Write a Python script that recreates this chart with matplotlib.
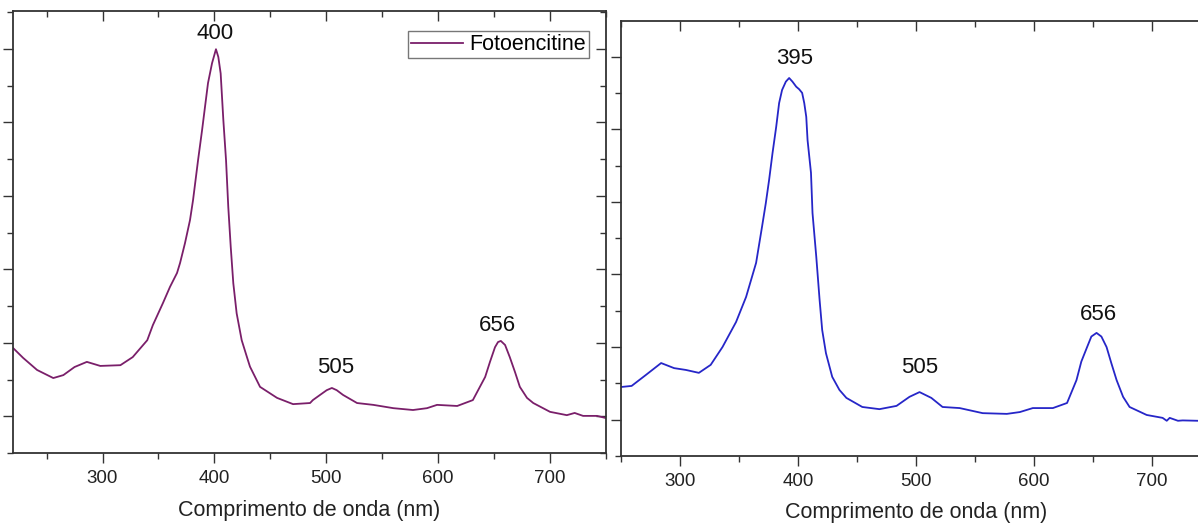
import numpy as np
import matplotlib
matplotlib.use('Agg')
import matplotlib.pyplot as plt
from matplotlib.ticker import MultipleLocator, NullFormatter

plt.rcParams['font.family'] = ['Liberation Sans', 'DejaVu Sans']

# espectro da esquerda (Fotoencitine)
wl_left = [220, 229, 241.5, 256, 265, 275, 286, 298, 316, 327, 340, 345, 354, 360.3,
           366.6, 369.3, 373.7, 378.2, 380.9, 385.4, 389, 391.6, 394.3, 397.9, 401.4,
           403.5, 405.6, 408, 410.4, 412.4, 414.6, 416.9, 419.9, 424.4, 429.1, 431.8,
           440.8, 456, 470.3, 485.5, 488, 494.4, 500.4, 505, 509.3, 515, 527.5, 542,
           560, 577.5, 590, 599, 617, 631, 642, 646.3, 650.8, 653.5, 656, 659.8, 664,
           668.7, 673, 679.4, 685, 700, 715, 722, 729.5, 742, 750]
abs_left = [0.186, 0.159, 0.126, 0.104, 0.112, 0.134, 0.148, 0.137, 0.139, 0.161,
            0.207, 0.248, 0.308, 0.352, 0.390, 0.417, 0.471, 0.534, 0.588, 0.697,
            0.779, 0.842, 0.907, 0.961, 0.999, 0.978, 0.933, 0.806, 0.697, 0.570,
            0.461, 0.362, 0.280, 0.207, 0.161, 0.135, 0.080, 0.050, 0.033, 0.036,
            0.044, 0.058, 0.071, 0.077, 0.071, 0.058, 0.036, 0.031, 0.022, 0.017,
            0.022, 0.031, 0.028, 0.044, 0.107, 0.148, 0.188, 0.202, 0.205, 0.194,
            0.161, 0.120, 0.080, 0.050, 0.036, 0.012, 0.003, 0.009, 0.001, 0.001,
            -0.005]

# espectro da direita
wl_right = [250, 259, 271, 284, 295, 305, 316, 326, 336, 347.5, 356, 364.5, 369.5,
            372.7, 375.5, 378.4, 381.5, 384, 386.5, 389.7, 392.5, 395.3, 398.5, 401,
            403.5, 405.3, 407, 408.1, 411, 412.3, 415.5, 418.3, 420.5, 423.7, 429,
            435.1, 441, 454.5, 469, 483.5, 494.5, 503, 513, 522.5, 537, 556.5, 577,
            588, 599, 616, 628, 636, 640.1, 645, 648.6, 653, 657.1, 661.5, 665.6, 670,
            675.5, 681, 695.5, 709, 712.5, 715, 722, 726, 739, 750]
abs_right = [0.090, 0.093, 0.123, 0.156, 0.142, 0.137, 0.129, 0.151, 0.200, 0.269,
             0.338, 0.432, 0.531, 0.596, 0.660, 0.734, 0.806, 0.872, 0.908, 0.931,
             0.941, 0.931, 0.917, 0.910, 0.900, 0.872, 0.834, 0.770, 0.680, 0.569,
             0.448, 0.330, 0.247, 0.183, 0.118, 0.082, 0.060, 0.035, 0.029, 0.038,
             0.063, 0.076, 0.060, 0.035, 0.032, 0.018, 0.016, 0.021, 0.032, 0.032,
             0.046, 0.109, 0.160, 0.200, 0.229, 0.239, 0.229, 0.200, 0.155, 0.109,
             0.063, 0.035, 0.013, 0.005, -0.003, 0.005, -0.003, -0.002, -0.003,
             -0.003]

# rotulos dos picos (texto, x, y)
peaks_left = [("400", 400.5, 1.043), ("505", 508.7, 0.134), ("656", 652.6, 0.248)]
peaks_right = [("395", 396.8, 0.996), ("505", 502.9, 0.145), ("656", 654.8, 0.291)]

fig = plt.figure(figsize=(11.98, 5.25), dpi=100)
W, H = 1198.0, 525.0
ax1 = fig.add_axes([13 / W, (H - 453) / H, 593 / W, 442 / H])
ax2 = fig.add_axes([621 / W, (H - 456) / H, 590 / W, 435 / H])

def style_axis(ax, xmin, xmax, ytop):
    ax.set_xlim(xmin, xmax)
    ax.set_ylim(-0.1, ytop)
    ax.xaxis.set_major_locator(MultipleLocator(100))
    ax.xaxis.set_minor_locator(MultipleLocator(50))
    ax.yaxis.set_major_locator(MultipleLocator(0.2))
    ax.yaxis.set_minor_locator(MultipleLocator(0.1))
    ax.yaxis.set_major_formatter(NullFormatter())
    ax.tick_params(axis='both', which='both', direction='out', color='#333333',
                   width=1.0, labelsize=13.5, labelcolor='#222222', pad=5)
    ax.tick_params(which='major', length=7)
    ax.tick_params(which='minor', length=4.5)
    ax.tick_params(top=True, right=True, which='both')
    for s in ax.spines.values():
        s.set_linewidth(1.3)
        s.set_color('#333333')
    ax.set_xlabel("Comprimento de onda (nm)", fontsize=15.5, color='#222222', va='center')
    ax.xaxis.set_label_coords(0.5, -0.129)
    # ticks de cima e da direita para dentro
    for t in ax.xaxis.get_ticklines(minor=False)[1::2] + ax.xaxis.get_ticklines(minor=True)[1::2]:
        t.set_marker(3)
    for t in ax.yaxis.get_ticklines(minor=False)[1::2] + ax.yaxis.get_ticklines(minor=True)[1::2]:
        t.set_marker(0)

ax1.plot(wl_left, abs_left, color='#7a1f6a', lw=1.3, label='Fotoencitine')
style_axis(ax1, 220, 750, 1.103)
for txt, x, y in peaks_left:
    ax1.text(x, y, txt, fontsize=16, ha='center', va='center', color='#111111')
leg = ax1.legend(loc='upper right', fontsize=15.5, frameon=True, fancybox=False,
                 handlelength=2.4, borderpad=0.15, handletextpad=0.3,
                 borderaxespad=0.0, bbox_to_anchor=(0.972, 0.955))
leg.get_frame().set_edgecolor('#555555')
leg.get_frame().set_linewidth(1.0)

ax2.plot(wl_right, abs_right, color='#2626c8', lw=1.3)
style_axis(ax2, 250, 750, 1.098)
for txt, x, y in peaks_right:
    ax2.text(x, y, txt, fontsize=16, ha='center', va='center', color='#111111')

fig.savefig('out.png', dpi=100, facecolor='white')
